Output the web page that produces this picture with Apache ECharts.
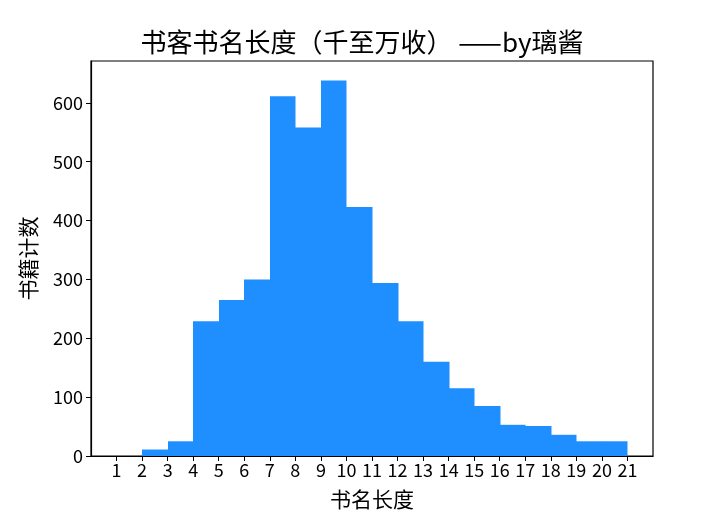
<!DOCTYPE html>
<html>
<head>
<meta charset="utf-8">
<script src="https://cdn.jsdelivr.net/npm/echarts@6/dist/echarts.min.js"></script>
<style>html,body{margin:0;padding:0;background:#fff}#c{width:724px;height:512px}</style>
</head>
<body>
<div id="c"></div>
<script>
const binStarts = [2,3,4,5,6,7,8,9,10,11,12,13,14,15,16,17,18,19,20];
const counts = [11,25,229,265,300,611,558,638,423,294,229,160,115,85,53,51,36,25,25];
const xTicks = [1,2,3,4,5,6,7,8,9,10,11,12,13,14,15,16,17,18,19,20,21];
const yTicks = [0,100,200,300,400,500,600];
const titleText = '书客书名长度（千至万收） ——by璃酱';
const xName = '书名长度';
const yName = '书籍计数';

const FONT = '"Noto Sans CJK SC", sans-serif';
const chart = echarts.init(document.getElementById('c'), null, {renderer: 'canvas'});
const data = binStarts.map((s, i) => [s, s + 1, counts[i]]);
chart.setOption({
  animation: false,
  backgroundColor: '#fff',
  title: {
    text: titleText, left: 'center', top: 24,
    textStyle: {fontFamily: FONT, fontSize: 26, fontWeight: 'normal', color: '#000'}
  },
  grid: {left: 91, right: 71, top: 61, bottom: 56, outerBoundsMode: 'none', containLabel: false,
    show: true, borderColor: '#000', borderWidth: 1.2, backgroundColor: 'transparent'},
  xAxis: {
    type: 'value', min: 0, max: 22, interval: 1,
    name: xName, nameLocation: 'middle', nameGap: 33,
    nameTextStyle: {fontFamily: FONT, fontSize: 21, color: '#000'},
    axisLine: {show: true, lineStyle: {color: '#000', width: 1.2}},
    axisTick: {show: true, length: 5, lineStyle: {color: '#000'}, customValues: xTicks},
    axisLabel: {fontFamily: FONT, fontSize: 18, color: '#000', margin: 5, customValues: xTicks},
    splitLine: {show: false}
  },
  yAxis: {
    type: 'value', min: 0, max: 671,
    name: yName, nameLocation: 'middle', nameGap: 52,
    nameTextStyle: {fontFamily: FONT, fontSize: 21, color: '#000'},
    axisLine: {show: true, lineStyle: {color: '#000', width: 1.2}},
    axisTick: {show: true, length: 5, lineStyle: {color: '#000'}, customValues: yTicks},
    axisLabel: {fontFamily: FONT, fontSize: 18, color: '#000', margin: 8, customValues: yTicks},
    splitLine: {show: false}
  },
  series: [{
    type: 'custom',
    data: data,
    encode: {x: [0, 1], y: 2},
    renderItem: function (params, api) {
      const p0 = api.coord([api.value(0), 0]);
      const p1 = api.coord([api.value(1), api.value(2)]);
      const x0 = Math.round(p0[0]), x1 = Math.round(p1[0]) + 0.5;
      return {
        type: 'rect',
        shape: {x: x0, y: p1[1], width: x1 - x0, height: p0[1] - p1[1]},
        style: {fill: '#1f8fff', stroke: null}
      };
    }
  }]
});
</script>
</body>
</html>
